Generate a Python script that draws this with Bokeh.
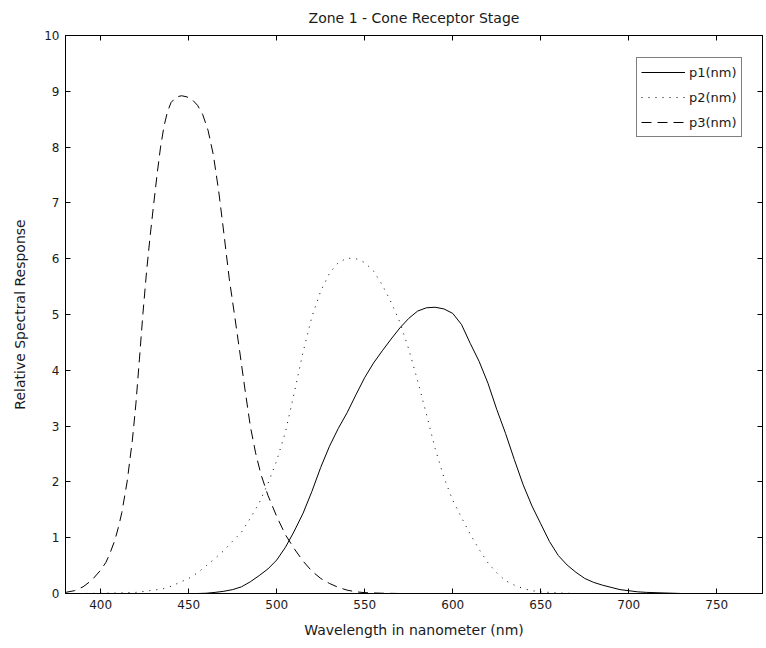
from bokeh.plotting import figure
from bokeh.models import (LinearAxis, FixedTicker, Range1d, Legend, LegendItem,
                          CustomLabelingPolicy)
from bokeh.embed import file_html
from bokeh.resources import INLINE

# ---- data ----
p1_wl = [380, 400, 420, 440, 455, 460, 465, 470, 475, 480, 485, 490, 495, 500, 505, 510, 515, 520,
         525, 530, 535, 540, 545, 550, 555, 560, 565, 570, 575, 580, 585, 590, 595, 600, 605,
         610, 615, 620, 625, 630, 635, 640, 645, 650, 655, 660, 665, 670, 675, 680, 685, 690,
         695, 700, 705, 710, 720, 730, 780]
p1_val = [0.0, 0.0, 0.0, 0.0, 0.0, 0.005, 0.02, 0.04, 0.07, 0.12, 0.21, 0.32, 0.44, 0.6, 0.83, 1.12,
          1.44, 1.83, 2.26, 2.64, 2.96, 3.24, 3.56, 3.87, 4.13, 4.35, 4.56, 4.76, 4.93, 5.06, 5.12,
          5.13, 5.1, 5.02, 4.82, 4.48, 4.16, 3.77, 3.3, 2.87, 2.4, 1.95, 1.57, 1.25, 0.93, 0.68,
          0.51, 0.38, 0.27, 0.2, 0.15, 0.11, 0.07, 0.05, 0.03, 0.02, 0.01, 0.0, 0.0]

p2_wl = [380, 390, 400, 410, 420, 425, 430, 435, 440, 445, 450, 455, 460, 465, 470, 475, 480, 485,
         490, 495, 500, 505, 510, 515, 520, 525, 530, 535, 540, 545, 550, 555, 560, 565, 570,
         575, 580, 585, 590, 595, 600, 605, 610, 615, 620, 625, 630, 635, 640, 645, 650, 660,
         670, 780]
p2_val = [0.0, 0.0, 0.005, 0.01, 0.02, 0.04, 0.06, 0.08, 0.13, 0.2, 0.27, 0.37, 0.5, 0.63, 0.77,
          0.94, 1.1, 1.35, 1.62, 1.97, 2.38, 2.9, 3.6, 4.33, 4.96, 5.42, 5.74, 5.93, 6.01, 6.0,
          5.93, 5.78, 5.53, 5.22, 4.86, 4.38, 3.82, 3.22, 2.6, 2.08, 1.67, 1.36, 1.06, 0.79, 0.55,
          0.37, 0.23, 0.15, 0.09, 0.05, 0.03, 0.01, 0.0, 0.0]

p3_wl = [380, 385, 390, 395, 400, 403, 405, 408, 410, 412, 415, 418, 420, 422, 424, 426, 428, 430,
         432, 434, 436, 438, 440, 443, 446, 449, 452, 455, 458, 461, 464, 467, 470, 473, 476,
         479, 482, 485, 488, 491, 495, 500, 505, 510, 515, 520, 525, 530, 535, 540, 545, 550,
         560, 570, 780]
p3_val = [0.02, 0.05, 0.12, 0.24, 0.42, 0.56, 0.7, 0.95, 1.18, 1.45, 2.0, 2.75, 3.4, 4.2, 5.02, 5.75,
          6.38, 6.95, 7.5, 8.0, 8.38, 8.64, 8.8, 8.9, 8.92, 8.9, 8.85, 8.75, 8.58, 8.3, 7.86, 7.22,
          6.45, 5.65, 5.0, 4.33, 3.65, 3.0, 2.52, 2.14, 1.76, 1.38, 1.05, 0.8, 0.58, 0.4, 0.27,
          0.18, 0.11, 0.06, 0.03, 0.015, 0.005, 0.0, 0.0]

series_names = ["p1(nm)", "p2(nm)", "p3(nm)"]
x_ticks = [400, 450, 500, 550, 600, 650, 700, 750]
y_ticks = [0, 1, 2, 3, 4, 5, 6, 7, 8, 9, 10]

FONT = "DejaVu Sans"
TEXT_COLOR = "#1a1a1a"

p = figure(width=766, height=648, output_backend="svg", toolbar_location=None,
           x_range=Range1d(380, 776), y_range=Range1d(0, 10),
           min_border_left=65, min_border_right=0, min_border_top=35, min_border_bottom=55,
           title="Zone 1 - Cone Receptor Stage")
p.title.align = "center"
p.title.text_font = FONT
p.title.text_font_size = "14px"
p.title.text_font_style = "normal"
p.title.text_color = TEXT_COLOR
p.title.standoff = 11

p.grid.visible = False
p.outline_line_color = "black"
p.background_fill_color = "white"
p.border_fill_color = "white"

hide_all = CustomLabelingPolicy(code="for (const i of indices) indices.unset(i); return indices")

def style_axis(ax, ticks, show_labels):
    ax.ticker = FixedTicker(ticks=ticks)
    ax.major_tick_in = 5
    ax.major_tick_out = 0
    ax.minor_tick_line_color = None
    ax.axis_line_color = "black"
    ax.major_tick_line_color = "black"
    ax.major_label_text_font = FONT
    ax.major_label_text_color = TEXT_COLOR
    if show_labels:
        ax.major_label_text_font_size = "12px"
        ax.major_label_standoff = 6
    else:
        ax.major_label_text_font_size = "1px"
        ax.major_label_standoff = 0
        ax.major_label_policy = hide_all

style_axis(p.xaxis[0], x_ticks, True)
style_axis(p.yaxis[0], y_ticks, True)
p.xaxis[0].axis_label = "Wavelength in nanometer (nm)"
p.yaxis[0].axis_label = "Relative Spectral Response"
for ax in (p.xaxis[0], p.yaxis[0]):
    ax.axis_label_text_font = FONT
    ax.axis_label_text_font_size = "14px"
    ax.axis_label_text_font_style = "normal"
    ax.axis_label_text_color = TEXT_COLOR
p.xaxis[0].axis_label_standoff = 10
p.yaxis[0].axis_label_standoff = 13

top_ax = LinearAxis()
style_axis(top_ax, x_ticks, False)
p.add_layout(top_ax, "above")
right_ax = LinearAxis()
style_axis(right_ax, y_ticks, False)
p.add_layout(right_ax, "right")

r1 = p.line(p1_wl, p1_val, line_color="black", line_width=1)
r2 = p.line(p2_wl, p2_val, line_color="black", line_width=1, line_dash="1 6")
r3 = p.line(p3_wl, p3_val, line_color="black", line_width=1, line_dash="10 6")

legend = Legend(items=[LegendItem(label=series_names[0], renderers=[r1]),
                       LegendItem(label=series_names[1], renderers=[r2]),
                       LegendItem(label=series_names[2], renderers=[r3])],
                location=(571, 456))
legend.border_line_color = "black"
legend.border_line_width = 1
legend.background_fill_color = "white"
legend.background_fill_alpha = 1
legend.label_text_font = FONT
legend.label_text_font_size = "13px"
legend.label_text_color = TEXT_COLOR
legend.glyph_width = 44
legend.glyph_height = 20
legend.label_height = 20
legend.spacing = 5
legend.padding = 4
legend.margin = 0
legend.label_standoff = 4
p.add_layout(legend, "center")

open("out.html", "w").write(file_html(p, INLINE))
